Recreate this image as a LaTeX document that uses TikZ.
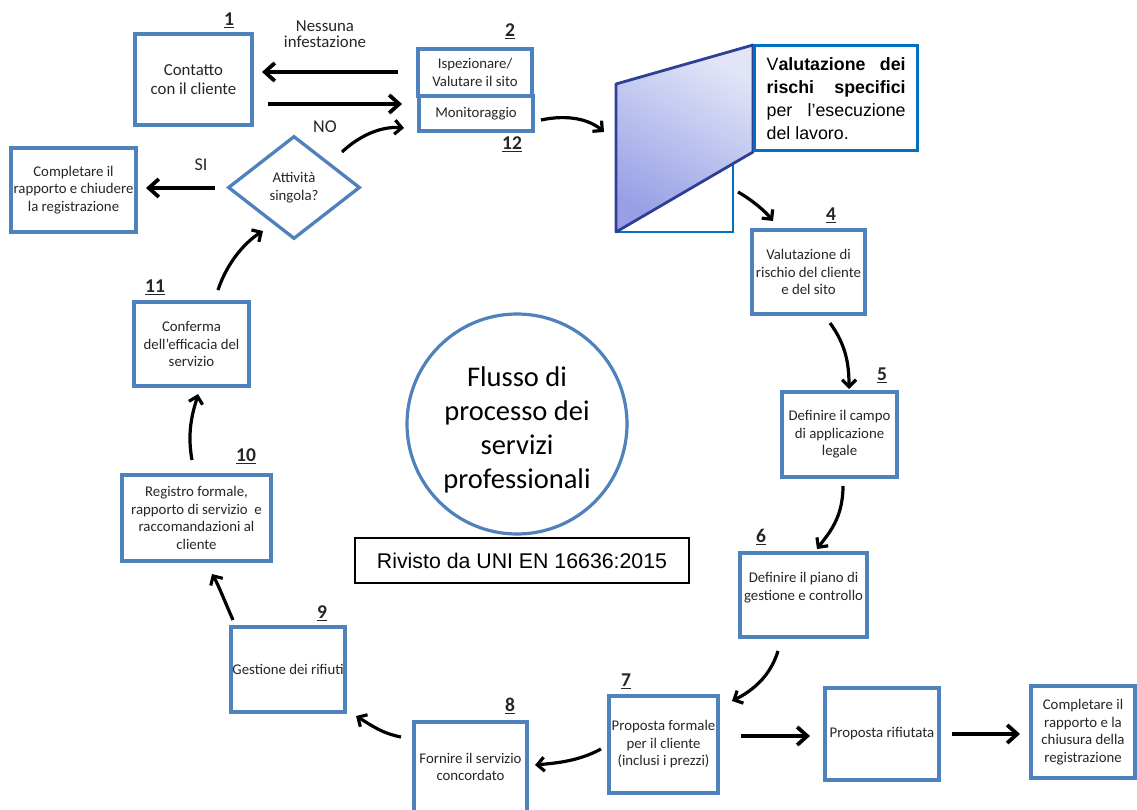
\documentclass[tikz,border=0pt]{standalone}
\usepackage{fontspec}
\setmainfont{Carlito}
\newfontfamily\arialf{Liberation Sans}
\usetikzlibrary{arrows.meta,shapes.geometric}
\definecolor{boxblue}{HTML}{4F81BD}
\definecolor{calblue}{HTML}{0070C0}
\definecolor{parborder}{HTML}{2F3F93}
\definecolor{parlight}{HTML}{E2E5F7}
\definecolor{pardark}{HTML}{97A0E6}
\definecolor{txt}{HTML}{262626}
\begin{document}
\begin{tikzpicture}[x=1pt,y=-1pt,
  box/.style={draw=boxblue,line width=3.3pt,fill=white,align=center,inner sep=0pt,
     text=txt,font=\fontsize{14.8}{17.5}\selectfont},
  num/.style={font=\fontsize{19.5}{21}\selectfont\bfseries,text=txt},
  lab/.style={font=\fontsize{18}{20}\selectfont,text=txt,align=center},
  sarrow/.style={line width=3.8pt,-{Straight Barb[length=10pt,width=18pt]}},
  carrow/.style={line width=3.2pt,-{Straight Barb[length=7pt,width=14pt]}}]
\useasboundingbox (0,0) rectangle (1137,810);
\fill[white] (0,0) rectangle (1137,810);

% boxes
\node[box,minimum width=117,minimum height=91,font=\fontsize{16.8}{19.5}\selectfont] (b1) at (193.5,79.5) {Contatto\\con il cliente};
\node[box,minimum width=114,minimum height=47] (b2) at (475,72.5) {Ispezionare/\\Valutare il sito};
\node[box,minimum width=114,minimum height=35] (b12) at (476,113.5) {Monitoraggio};
\node[box,minimum width=125,minimum height=84] (bsi) at (73.5,190) {Completare il\\rapporto e chiudere\\la registrazione};
\node[box,shape=diamond,minimum width=132,minimum height=103,inner sep=0pt] (dia) at (294,187.5) {Attività\\singola?};
\node[box,minimum width=115,minimum height=84] (b11) at (191.5,344) {Conferma\\dell’efficacia del\\servizio};
\node[box,minimum width=149,minimum height=86] (b10) at (196.5,518) {Registro formale,\\rapporto di servizio\ \ e\\raccomandazioni al\\cliente};
\node[box,minimum width=114,minimum height=85] (b9) at (288,669.5) {Gestione dei rifiuti};
\node[box,minimum width=113,minimum height=90] (b8) at (470.5,767) {Fornire il servizio\\concordato};
\node[box,minimum width=109,minimum height=97] (b7) at (663.5,744.5) {Proposta formale\\per il cliente\\(inclusi i prezzi)};
\node[box,minimum width=127,minimum height=84] (b6) at (803.5,595) {Definire il piano di\\gestione e controllo\\~};
\node[box,minimum width=115,minimum height=85] (b5) at (839.5,434.5) {Definire il campo\\di applicazione\\legale};
\node[box,minimum width=113,minimum height=84] (b4) at (808.5,272) {Valutazione di\\rischio del cliente\\e del sito};
\node[box,minimum width=114,minimum height=92] (brif) at (882,734) {Proposta rifiutata};
\node[box,minimum width=104,minimum height=92] (bfin) at (1083,732) {Completare il\\rapporto e la\\chiusura della\\registrazione};

% circle and reference box
\node[draw=boxblue,line width=3.2pt,circle,minimum size=220,inner sep=0pt] (circ) at (517,424) {};
\node[align=center,text=black,font=\fontsize{28.5}{34}\selectfont] (circt) at (517,430) {Flusso di\\processo dei\\servizi\\professionali};
\node[draw=black,line width=1.4pt,minimum width=334,minimum height=45,
  font=\arialf\fontsize{21.3}{24}\selectfont] (riv) at (522,560.5) {Rivisto da UNI EN 16636:2015};

% callout
\node[draw=calblue,line width=2.2pt,fill=white,minimum width=117,minimum height=132,inner sep=0pt] (cback) at (674.5,166) {};
\coordinate (pA) at (616,84);
\coordinate (pB) at (753,45);
\coordinate (pC) at (753,152);
\coordinate (pD) at (616,232);
\shade[top color=parlight,bottom color=pardark,shading angle=-30] (pA) -- (pB) -- (pC) -- (pD) -- cycle;
\draw[parborder,line width=2.8pt,line join=round] (pA) -- (pB) -- (pC) -- (pD) -- cycle;
\node[draw=calblue,line width=3.3pt,fill=white,minimum width=163,minimum height=105,inner sep=0pt,
  anchor=north west,text=black,font=\arialf\fontsize{17.8}{23}\selectfont,align=left] (call) at (753,44)
  {\makebox[139pt][s]{V\textbf{alutazione dei}}\\\makebox[139pt][s]{\textbf{rischi specifici}}\\\makebox[139pt][s]{per l’esecuzione}\\\makebox[139pt][l]{del lavoro.}};

% numbers
\node[num] (n1) at (229,20) {\underline{1}};
\node[num] (n2) at (510,31) {\underline{2}};
\node[num] (n12) at (512,144) {\underline{12}};
\node[num] (n4) at (831,215) {\underline{4}};
\node[num] (n5) at (882,375) {\underline{5}};
\node[num] (n6) at (761,537) {\underline{6}};
\node[num] (n7) at (626,681) {\underline{7}};
\node[num] (n8) at (510,706) {\underline{8}};
\node[num] (n9) at (322,613) {\underline{9}};
\node[num] (n10) at (246,456) {\underline{10}};
\node[num] (n11) at (155,287) {\underline{11}};

% labels
\node[lab,font=\fontsize{16.8}{16}\selectfont] (nessuna) at (325,34) {Nessuna\\infestazione};
\node[lab] (no) at (325,127) {NO};
\node[lab] (si) at (201,165) {SI};

% arrow end points
\coordinate (a1s) at (398,72);   \coordinate (a1e) at (262,72);
\coordinate (a2s) at (268,104);  \coordinate (a2e) at (402,104);
\coordinate (asis) at (215,188); \coordinate (asie) at (146,188);
\coordinate (ars) at (741,736);  \coordinate (are) at (810,736);
\coordinate (afs) at (952,734);  \coordinate (afe) at (1020,734);
\coordinate (nos) at (342,152);  \coordinate (noe) at (404,128);
\coordinate (c12s) at (541,120); \coordinate (c12e) at (604,132);
\coordinate (c3s) at (738,192);  \coordinate (c3e) at (773,221);
\coordinate (c4s) at (830,323);  \coordinate (c4e) at (849,389);
\coordinate (c5s) at (843,486);  \coordinate (c5e) at (817,549);
\coordinate (c6s) at (778,651);  \coordinate (c6e) at (732,701);
\coordinate (c7s) at (601,749);  \coordinate (c7e) at (535,765);
\coordinate (c8s) at (401,737);  \coordinate (c8e) at (356,716);
\coordinate (c9s) at (233,620);  \coordinate (c9e) at (212,574);
\coordinate (c10s) at (192,460); \coordinate (c10e) at (198,394);
\coordinate (c11s) at (218,290); \coordinate (c11e) at (263,231);

% straight arrows
\draw[sarrow] (a1s) -- (a1e);
\draw[sarrow] (a2s) -- (a2e);
\draw[sarrow] (asis) -- (asie);
\draw[sarrow] (ars) -- (are);
\draw[sarrow] (afs) -- (afe);

% curved arrows
\draw[carrow] (nos) .. controls +(18,-17) and +(-22,-2) .. (noe);
\draw[carrow] (c12s) .. controls +(28,-6) and +(-14,-12) .. (c12e);
\draw[carrow] (c3s) .. controls +(14,8) and +(-8,-10) .. (c3e);
\draw[carrow] (c4s) .. controls +(16,22) and +(0,-25) .. (c4e);
\draw[carrow] (c5s) .. controls +(0,32) and +(12,-16) .. (c5e);
\draw[carrow] (c6s) .. controls +(-8,26) and +(20,-10) .. (c6e);
\draw[carrow] (c7s) .. controls +(-22,12) and +(22,-2) .. (c7e);
\draw[carrow] (c8s) .. controls +(-20,-4) and +(15,9) .. (c8e);
\draw[carrow] (c9s) .. controls +(-8,-18) and +(6,10) .. (c9e);
\draw[carrow] (c10s) .. controls +(-6,-32) and +(-3,12) .. (c10e);
\draw[carrow] (c11s) .. controls +(10,-30) and +(-16,10) .. (c11e);
\end{tikzpicture}
\end{document}
